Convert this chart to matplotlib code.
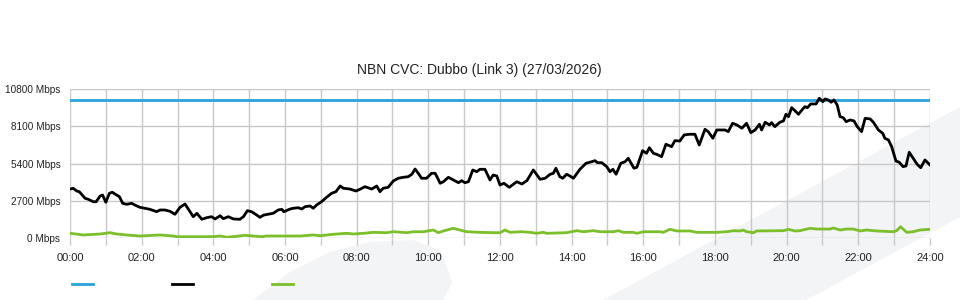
import matplotlib
matplotlib.use("Agg")
import matplotlib.pyplot as plt
from matplotlib.patches import Polygon
from matplotlib.lines import Line2D

plt.rcParams['font.family'] = ['Liberation Sans', 'DejaVu Sans']

TITLE = 'NBN CVC: Dubbo (Link 3) (27/03/2026)'

# provisioned capacity (Mbps), flat across the day
cap_t = [0.0, 24.0]
cap_v = [10000, 10000]

# main traffic series (hours, Mbps)
black_t = [0.00, 0.09, 0.19, 0.26, 0.42, 0.51, 0.65, 0.73, 0.84, 0.91,
           1.00, 1.10, 1.18, 1.30, 1.38, 1.47, 1.58, 1.72, 1.81, 1.95,
           2.09, 2.23, 2.42, 2.51, 2.65, 2.79, 2.93, 3.07, 3.21, 3.35,
           3.44, 3.54, 3.68, 3.81, 3.95, 4.05, 4.19, 4.28, 4.42, 4.56,
           4.74, 4.84, 4.95, 5.07, 5.21, 5.30, 5.41, 5.53, 5.67, 5.81,
           5.91, 5.97, 6.14, 6.23, 6.37, 6.47, 6.56, 6.70, 6.79, 6.88,
           7.02, 7.16, 7.30, 7.42, 7.54, 7.63, 7.81, 7.98, 8.09, 8.23,
           8.42, 8.56, 8.65, 8.74, 8.88, 9.02, 9.16, 9.30, 9.44, 9.54,
           9.63, 9.72, 9.81, 9.95, 10.09, 10.19, 10.23, 10.33, 10.42, 10.56,
           10.70, 10.84, 10.93, 11.02, 11.12, 11.24, 11.35, 11.44, 11.58, 11.72,
           11.81, 11.91, 12.00, 12.11, 12.26, 12.47, 12.61, 12.75, 12.93, 13.12,
           13.26, 13.40, 13.49, 13.56, 13.67, 13.75, 13.86, 13.95, 14.05, 14.23,
           14.40, 14.56, 14.65, 14.72, 14.84, 14.98, 15.07, 15.15, 15.24, 15.37,
           15.49, 15.58, 15.65, 15.74, 15.82, 15.98, 16.09, 16.17, 16.28, 16.37,
           16.51, 16.63, 16.79, 16.88, 17.02, 17.14, 17.30, 17.44, 17.56, 17.72,
           17.81, 17.94, 18.05, 18.28, 18.37, 18.49, 18.61, 18.75, 18.88, 19.00,
           19.12, 19.24, 19.30, 19.40, 19.52, 19.58, 19.67, 19.81, 19.91, 19.98,
           20.05, 20.14, 20.21, 20.33, 20.45, 20.51, 20.58, 20.67, 20.82, 20.91,
           21.01, 21.07, 21.16, 21.24, 21.32, 21.41, 21.49, 21.58, 21.66, 21.77,
           21.88, 21.97, 22.09, 22.19, 22.33, 22.42, 22.56, 22.68, 22.74, 22.84,
           22.93, 23.05, 23.14, 23.25, 23.33, 23.42, 23.53, 23.64, 23.74, 23.86,
           24.00]
black_v = [3550, 3600, 3405, 3355, 2880, 2805, 2630, 2630, 3045, 3115,
           2590, 3240, 3315, 3115, 2995, 2515, 2445, 2515, 2390, 2225,
           2155, 2080, 1905, 2030, 2030, 1935, 1720, 2225, 2465, 1905,
           1545, 1790, 1355, 1470, 1545, 1380, 1615, 1400, 1545, 1380,
           1355, 1545, 1980, 1905, 1665, 1500, 1665, 1720, 1790, 2030,
           2080, 1905, 2100, 2155, 2195, 2100, 2270, 2320, 2155, 2390,
           2630, 2950, 3240, 3355, 3770, 3605, 3550, 3405, 3530, 3720,
           3550, 3770, 3355, 3605, 3675, 4130, 4330, 4400, 4445, 4620,
           5000, 4690, 4330, 4330, 4690, 4690, 4495, 3965, 4080, 4400,
           4205, 4010, 4155, 4010, 4080, 4930, 4805, 4980, 4980, 4205,
           4565, 4495, 3840, 3965, 3675, 4080, 3915, 4155, 4930, 4255,
           4330, 4620, 4690, 5055, 4445, 4330, 4620, 4495, 4330, 4980,
           5415, 5530, 5605, 5460, 5460, 5170, 4805, 4980, 4620, 5415,
           5530, 5780, 5460, 5055, 5125, 6330, 6140, 6545, 6140, 6070,
           5895, 6795, 6620, 7055, 7030, 7470, 7520, 7520, 6740, 7880,
           7710, 7230, 7830, 7830, 7710, 8315, 8195, 7955, 8315, 7635,
           7830, 8245, 7830, 8390, 8195, 8360, 8070, 8390, 8485, 8970,
           8795, 9445, 9280, 8970, 9355, 9520, 9445, 9715, 9715, 10130,
           9880, 10080, 10005, 9840, 10005, 9645, 8795, 8720, 8430, 8555,
           8485, 8070, 7710, 8675, 8630, 8390, 7830, 7590, 7230, 7105,
           6620, 5580, 5490, 5170, 5220, 6215, 5780, 5345, 5095, 5655,
           5295]

# low traffic series (hours, Mbps)
green_t = [0.00, 0.37, 0.84, 1.12, 1.30, 1.58, 1.95, 2.51, 2.88, 2.98,
           4.00, 4.19, 4.37, 4.56, 4.88, 5.12, 5.35, 5.49, 6.42, 6.79,
           6.98, 7.35, 7.72, 7.91, 8.19, 8.46, 8.84, 9.02, 9.40, 9.58,
           9.86, 10.14, 10.28, 10.42, 10.70, 10.88, 11.07, 11.44, 11.81, 12.00,
           12.14, 12.28, 12.61, 12.84, 13.02, 13.21, 13.30, 13.86, 14.14, 14.33,
           14.60, 14.79, 15.16, 15.30, 15.44, 15.72, 15.82, 16.00, 16.47, 16.56,
           16.74, 16.93, 17.30, 17.49, 18.05, 18.33, 18.51, 18.70, 18.79, 18.88,
           19.08, 19.16, 19.91, 20.05, 20.23, 20.37, 20.65, 20.84, 21.21, 21.30,
           21.49, 21.67, 21.86, 22.05, 22.23, 22.51, 22.98, 23.07, 23.18, 23.35,
           23.53, 23.72, 24.00]
green_v = [340, 220, 290, 385, 290, 220, 145, 220, 145, 95,
           95, 145, 50, 95, 195, 145, 95, 145, 145, 220,
           165, 270, 340, 290, 340, 410, 385, 455, 385, 455,
           455, 580, 385, 510, 700, 580, 455, 410, 385, 385,
           580, 410, 455, 410, 340, 410, 340, 385, 530, 455,
           530, 455, 455, 530, 410, 410, 340, 455, 455, 410,
           630, 510, 510, 410, 410, 455, 530, 510, 580, 455,
           385, 510, 530, 630, 510, 530, 700, 650, 650, 725,
           580, 650, 650, 510, 580, 510, 455, 530, 820, 410,
           455, 580, 630]

y_ticks = [0, 2700, 5400, 8100, 10800]
y_labels = ['%d Mbps' % v for v in y_ticks]
x_ticks = list(range(0, 25, 2))
x_labels = ['%02d:00' % h for h in x_ticks]

fig = plt.figure(figsize=(9.6, 3.0), dpi=100)
fig.patch.set_facecolor('white')

# faint background watermark shapes
wm = '#f3f4f6'
fig.patches.append(Polygon([(603/960, 0), (1.0, 193/300), (1.0, 83/300), (806/960, 0)],
                           closed=True, transform=fig.transFigure, facecolor=wm,
                           edgecolor='none', zorder=-5))
fig.patches.append(Polygon([(253/960, 0), (290/960, 28/300), (330/960, 48/300),
                            (370/960, 58/300), (413/960, 60/300), (440/960, 50/300),
                            (447/960, 33/300), (452/960, 17/300), (443/960, 0)],
                           closed=True, transform=fig.transFigure, facecolor=wm,
                           edgecolor='none', zorder=-5))

ax = fig.add_axes([70/960, 62/300, 860/960, 149/300])
ax.set_zorder(2)
ax.patch.set_alpha(0)

ax.plot(cap_t, cap_v, color='#29a3dc', lw=2, zorder=3)
ax.plot(green_t, green_v, color='#7bbf2a', lw=2, zorder=3)
ax.plot(black_t, black_v, color='black', lw=2, zorder=4)

ax.set_xlim(0, 24)
ax.set_ylim(0, 10800)
ax.set_xticks(range(0, 25), minor=True)
ax.set_xticks(x_ticks)
ax.set_xticklabels(x_labels)
ax.set_yticks(y_ticks)
ax.set_yticklabels(y_labels)
ax.grid(True, which='both', color='#c8c8c8', lw=1)
ax.set_axisbelow(True)
for s in ax.spines.values():
    s.set_visible(False)
ax.tick_params(axis='x', which='both', length=5, color='#c8c8c8', width=1,
               labelsize=8, pad=6, labelcolor='#222222')
ax.tick_params(axis='y', length=0, labelsize=7.2, pad=7, labelcolor='#222222')

fig.text(0.499, 1 - 70/300, TITLE, fontsize=10, color='#222222',
         ha='center', va='center')

handles = [Line2D([], [], color='#29a3dc', lw=2),
           Line2D([], [], color='black', lw=2),
           Line2D([], [], color='#7bbf2a', lw=2)]
fig.legend(handles, ['', '', ''], ncol=3, frameon=False, fontsize=10,
           loc='center left', bbox_to_anchor=(70/960 - 0.0105, 15/300),
           handlelength=1.5, handletextpad=0, columnspacing=5.7)

fig.savefig('out.png', dpi=100)
